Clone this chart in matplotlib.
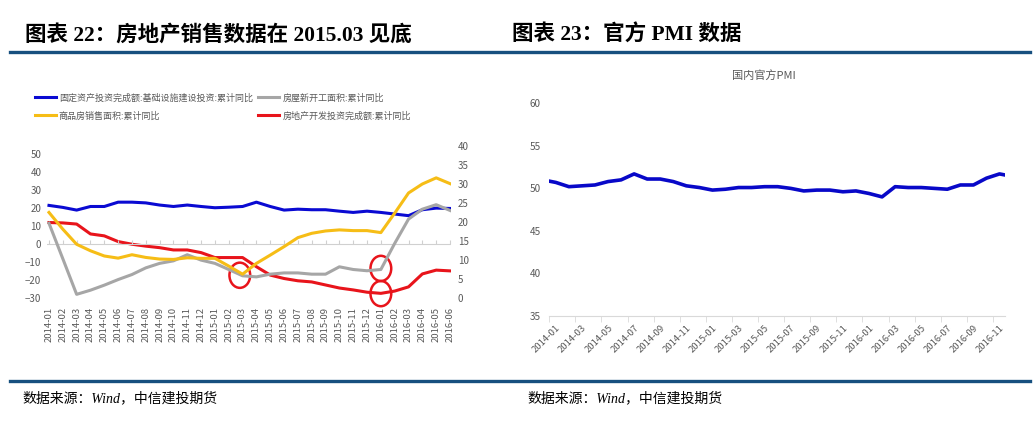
import matplotlib
matplotlib.use('Agg')
import matplotlib.pyplot as plt
from matplotlib.patches import Ellipse
from matplotlib.lines import Line2D

# ---------------- data: chart 22 (2014-01 .. 2016-06) ----------------
months22 = ['%d-%02d' % (y, m) for y in (2014, 2015, 2016) for m in range(1, 13)][:30]

infra = [21.6, 20.5, 19.0, 21.0, 21.0, 23.4, 23.4, 23.0, 21.8, 21.0,
         21.8, 21.0, 20.3, 20.6, 21.0, 23.4, 21.0, 19.0, 19.5, 19.2,
         19.2, 18.4, 17.7, 18.4, 17.7, 16.8, 15.9, 19.2, 20.1, 19.9]
new_starts = [11.7, -8.0, -27.8, -25.5, -22.7, -19.6, -16.8, -13.1, -10.6, -9.2,
              -5.8, -8.8, -10.6, -14.0, -17.5, -18.1, -16.6, -15.9, -15.9, -16.6,
              -16.6, -12.5, -14.0, -14.7, -14.0, 0.5, 14.0, 19.5, 22.0, 18.8]
sales_area = [17.7, 8.4, 0.0, -3.6, -6.5, -7.7, -5.8, -7.3, -8.2, -8.4,
              -7.5, -7.8, -7.8, -12.1, -16.6, -10.6, -6.0, -1.3, 3.7, 6.1,
              7.4, 8.0, 7.6, 7.6, 6.5, 17.3, 28.5, 33.5, 36.9, 33.7]
re_invest = [19.9, 19.8, 19.5, 16.9, 16.4, 14.9, 14.2, 13.7, 13.3, 12.7,
             12.7, 12.0, 10.7, 10.7, 10.7, 8.3, 6.1, 5.2, 4.6, 4.3,
             3.5, 2.7, 2.2, 1.6, 1.3, 1.9, 3.0, 6.4, 7.4, 7.2]

names22 = ['固定资产投资完成额:基础设施建设投资:累计同比', '商品房销售面积:累计同比',
           '房屋新开工面积:累计同比', '房地产开发投资完成额:累计同比']

# marked points (month index, left-axis value)
circles = [(13.8, -17.2), (24, -13.4), (24, -27.4)]

# ---------------- data: chart 23 (2013-12 .. 2016-12) ----------------
months23 = ['2013-12'] + ['%d-%02d' % (y, m) for y in (2014, 2015, 2016) for m in range(1, 13)]
pmi = [51.0,
       50.7, 50.2, 50.3, 50.4, 50.8, 51.0, 51.7, 51.1, 51.1, 50.8, 50.3, 50.1,
       49.8, 49.9, 50.1, 50.1, 50.2, 50.2, 50.0, 49.7, 49.8, 49.8, 49.6, 49.7,
       49.4, 49.0, 50.2, 50.1, 50.1, 50.0, 49.9, 50.4, 50.4, 51.2, 51.7, 51.4]

GREY = '#595959'
CJK = ['Noto Sans CJK SC', 'DejaVu Sans']
TITLE = ['Liberation Serif', 'Noto Sans CJK SC']
plt.rcParams['font.family'] = CJK

W, H = 1033, 422
fig = plt.figure(figsize=(W / 100, H / 100), dpi=100)

def fx(px):
    return px / W

def fy(py):
    return 1 - py / H

# titles and rules
fig.text(fx(25), fy(35), '图表 22：房地产销售数据在 2015.03 见底', family=TITLE,
         fontweight='bold', fontsize=15.5, va='center', ha='left')
fig.text(fx(512), fy(35), '图表 23：官方 PMI 数据', family=TITLE,
         fontweight='bold', fontsize=15.5, va='center', ha='left')
fig.add_artist(Line2D([fx(10), fx(1030)], [fy(52), fy(52)], color='#17507f', lw=2.4))
fig.add_artist(Line2D([fx(10), fx(1030)], [fy(381), fy(381)], color='#17507f', lw=2.4))
fig.text(fx(22), fy(398), '数据来源：Wind，中信建投期货', family=TITLE, style='italic',
         fontsize=10, va='center', ha='left')
fig.text(fx(527), fy(398), '数据来源：Wind，中信建投期货', family=TITLE, style='italic',
         fontsize=10, va='center', ha='left')

# ---------------- chart 22 ----------------
x0, x1 = 46.9, 450.7
ax = fig.add_axes([fx(x0), fy(298.3), fx(x1 - x0), (298.3 - 146) / H])
ax2 = ax.twinx()
xs = list(range(len(months22)))

l_blue, = ax.plot(xs, infra, color='#0a0ad2', lw=2.2)
l_grey, = ax.plot(xs, new_starts, color='#a6a6a6', lw=2.2)
l_yel, = ax.plot(xs, sales_area, color='#f6bd16', lw=2.2)
l_red, = ax2.plot(xs, re_invest, color='#e8141b', lw=2.2)

for cx, cy in circles:
    ax.add_patch(Ellipse((cx, cy), 1.5, 14, fill=False, ec='#e8141b', lw=1.8, clip_on=False))

ax.set_xlim(-0.15, 29.05)
ax.set_ylim(-30, 54.6)
ax2.set_ylim(0, 40)
ax.set_yticks(range(-30, 51, 10))
ax2.set_yticks(range(0, 41, 5))
ax.set_xticks(xs)
ax.set_xticklabels(months22, rotation=90, fontsize=6.8, color=GREY)
ax.tick_params(axis='x', length=0, pad=6)
ax.tick_params(axis='y', length=0, labelsize=7, labelcolor=GREY, pad=4)
ax2.tick_params(axis='y', length=0, labelsize=7, labelcolor=GREY, pad=5)
for a in (ax, ax2):
    for s in a.spines.values():
        s.set_visible(False)
ax.axhline(0, color='#d0d0d0', lw=0.8, zorder=0)
zero_ax = ax.secondary_xaxis(30 / 84.6)
zero_ax.set_xticks(xs)
zero_ax.tick_params(axis='x', direction='in', length=3, color='#d0d0d0', labelbottom=False)
zero_ax.spines['bottom'].set_visible(False)
ax.set_zorder(ax2.get_zorder() + 1)
ax.patch.set_visible(False)

fig.legend([l_blue, l_yel, l_grey, l_red], names22, ncol=2, loc='upper left',
           bbox_to_anchor=(fx(35), fy(93)), frameon=False, fontsize=6.5,
           labelcolor=GREY, handlelength=2.3, handletextpad=0.35,
           columnspacing=0.6, labelspacing=1.0, borderpad=0, borderaxespad=0)

# ---------------- chart 23 ----------------
bx = fig.add_axes([fx(549.3), fy(316), fx(1005 - 549.3), (316 - 103.3) / H])
xp = list(range(len(months23)))
bx.plot(xp, pmi, color='#0808c8', lw=2.6, solid_capstyle='butt')
bx.set_xlim(0.5, 35.42)
bx.set_ylim(35, 60)
bx.set_yticks(range(35, 61, 5))
bx.set_xticks(xp[1::2])
bx.set_xticklabels(months23[1::2], rotation=45, ha='right', rotation_mode='anchor',
                   fontsize=6.8, color=GREY)
bx.set_xticks([v + 0.5 for v in xp[:-1:2]], minor=True)
bx.tick_params(axis='x', which='major', length=0, pad=5)
bx.tick_params(axis='x', which='minor', length=4, color='#d9d9d9')
bx.tick_params(axis='y', length=0, labelsize=7.2, labelcolor=GREY, pad=6)
for k in ('top', 'right', 'left'):
    bx.spines[k].set_visible(False)
bx.spines['bottom'].set_color('#d9d9d9')
bx.text(0.47, 1.13, '国内官方PMI', transform=bx.transAxes, ha='center', va='center',
        fontsize=8, color=GREY)

fig.savefig('out.png', dpi=100)
